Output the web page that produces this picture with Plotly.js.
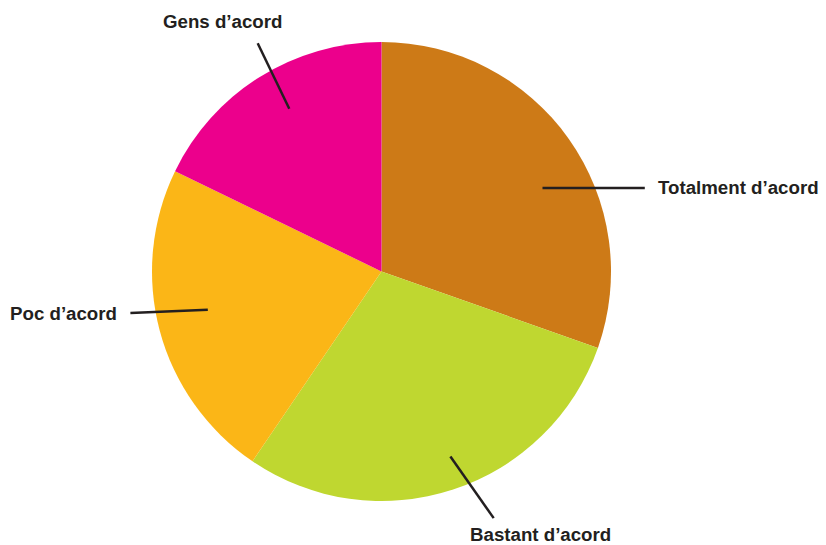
<!DOCTYPE html>
<html>
<head>
<meta charset="utf-8">
<script src="https://cdn.plot.ly/plotly-3.0.1.min.js"></script>
<style>html,body{margin:0;padding:0;background:#fff;}#chart{width:826px;height:545px;}</style>
</head>
<body>
<div id="chart"></div>
<script>
// Data
const categories = ["Totalment d’acord", "Bastant d’acord", "Poc d’acord", "Gens d’acord"];
const values = [30.4, 29.1, 22.7, 17.8];
const colors = ["#CD7A17", "#BFD730", "#FBB617", "#EC008C"];

// Layout / style
const W = 826, H = 545;
const cx = 381.5, cy = 271.5, R = 229.5;
// per-label leader styling: radial fraction, angle nudge (deg), line vector (px), text offset (px), anchor
const leader = [
  {frac: 0.79, nudge: 7.9,  line: [102.3, 0],    text: [11, -0.5],   xa: "left"},
  {frac: 0.86, nudge: -2.25, line: [43.3, 61.7], text: [46.7, 16.5], xa: "center"},
  {frac: 0.775, nudge: 2.5,  line: [-77.4, 3.3],  text: [-11, 0],     xa: "right"},
  {frac: 0.815, nudge: 2.5,  line: [-31.6, -65.6], text: [-34.7, -21.5], xa: "center"}
];

const total = values.reduce((a, b) => a + b, 0);
const shapes = [], annotations = [];
let cum = 0;
values.forEach((v, i) => {
  const mid = (cum + v / 2) / total * 360;
  cum += v;
  const L = leader[i];
  const a = (mid + L.nudge) * Math.PI / 180;
  const x0 = cx + L.frac * R * Math.sin(a);
  const y0 = cy - L.frac * R * Math.cos(a);
  const x1 = x0 + L.line[0], y1 = y0 + L.line[1];
  shapes.push({type: "line", xref: "paper", yref: "paper",
    x0: x0 / W, y0: 1 - y0 / H, x1: x1 / W, y1: 1 - y1 / H,
    line: {color: "#231F20", width: 2.5}});
  annotations.push({xref: "paper", yref: "paper", showarrow: false,
    x: (x1 + L.text[0]) / W, y: 1 - (y1 + L.text[1]) / H,
    xanchor: L.xa, yanchor: "middle", text: categories[i],
    font: {family: "Liberation Sans, Arial, sans-serif", size: 18.7, color: "#231F20", weight: "bold"}});
});

const trace = {
  type: "pie",
  labels: categories,
  values: values,
  sort: false,
  direction: "clockwise",
  rotation: 0,
  textinfo: "none",
  hoverinfo: "skip",
  marker: {colors: colors, line: {width: 0}},
  domain: {x: [(cx - R) / W, (cx + R) / W], y: [1 - (cy + R) / H, 1 - (cy - R) / H]}
};

Plotly.newPlot("chart", [trace], {
  width: W, height: H,
  margin: {l: 0, r: 0, t: 0, b: 0},
  showlegend: false,
  paper_bgcolor: "#ffffff",
  shapes: shapes,
  annotations: annotations
}, {staticPlot: true});
</script>
</body>
</html>
